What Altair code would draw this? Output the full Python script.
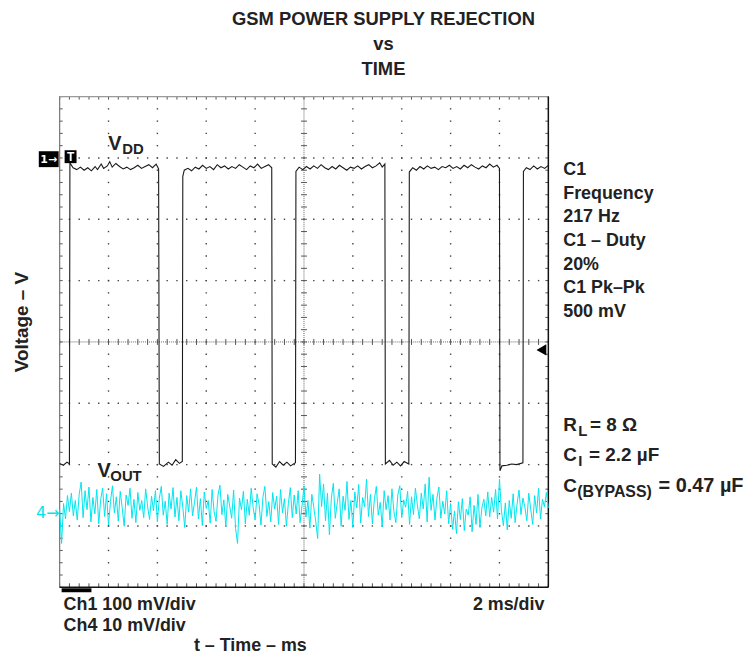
import altair as alt
import pandas as pd
import numpy as np

FONT = "Liberation Sans"

# ---------------- data ----------------
# Ch1 (VDD): time in ms, level in mV relative to the Ch1 ground marker, 100 mV/div
vdd_t = [0.00, 0.15, 0.30, 0.40,
         0.42, 0.55, 0.70, 0.85, 1.00, 1.15, 1.30, 1.45, 1.55, 1.70, 1.80, 1.95, 2.05, 2.15, 2.30, 2.45,
         2.60, 2.75, 2.90, 3.05, 3.20, 3.35, 3.50, 3.65, 3.80, 3.95, 4.05,
         4.08, 4.25, 4.45, 4.60, 4.75, 4.90, 5.02,
         5.04, 5.10, 5.25, 5.40, 5.55, 5.70, 5.85, 6.00, 6.15, 6.30, 6.45, 6.60, 6.75, 6.90, 7.05, 7.20,
         7.35, 7.50, 7.65, 7.80, 7.95, 8.10, 8.25, 8.40, 8.55, 8.68,
         8.70, 8.85, 9.00, 9.15, 9.30, 9.45, 9.65,
         9.67, 9.80, 9.95, 10.10, 10.25, 10.40, 10.55, 10.70, 10.85, 11.00, 11.15, 11.30, 11.45, 11.60,
         11.75, 11.90, 12.05, 12.20, 12.35, 12.50, 12.65, 12.80, 12.95, 13.10, 13.20, 13.31,
         13.33, 13.50, 13.65, 13.80, 13.95, 14.10, 14.29,
         14.31, 14.45, 14.60, 14.75, 14.90, 15.05, 15.20, 15.35, 15.50, 15.65, 15.80, 15.95, 16.10, 16.25,
         16.40, 16.55, 16.70, 16.85, 17.00, 17.15, 17.30, 17.45, 17.60, 17.75, 17.90, 18.00,
         18.02, 18.10, 18.30, 18.50, 18.70, 18.96,
         18.98, 19.10, 19.25, 19.40, 19.55, 19.70, 19.85, 20.00]
vdd_mv = [-496, -499, -494, -497,
          -6, -14, -17, -13, -18, -14, -19, -12, -17, -8, -15, -11, -4, -13, -7, -12,
          -16, -13, -17, -14, -10, -15, -12, -9, -14, -8, -16,
          -497, -501, -494, -499, -490, -496, -493,
          -28, -18, -15, -19, -13, -16, -10, -15, -12, -17, -9, -14, -11, -16, -12, -15,
          -9, -13, -17, -11, -14, -8, -15, -12, -9, -14,
          -497, -502, -493, -499, -494, -500, -495,
          -20, -13, -17, -12, -16, -11, -15, -9, -14, -17, -12, -16, -10, -14,
          -18, -13, -15, -11, -16, -12, -9, -14, -11, -6, -13, -8,
          -497, -491, -499, -494, -500, -493, -497,
          -21, -14, -18, -12, -16, -11, -15, -13, -17, -12, -14, -10, -15, -12,
          -16, -10, -14, -9, -13, -16, -11, -14, -8, -13, -10, -15,
          -508, -500, -499, -497, -498, -495,
          -20, -14, -17, -11, -16, -12, -15, -10]

# Ch4 (VOUT): mV relative to the Ch4 ground marker, 10 mV/div, one sample every 0.08 ms
vout_mv = [0.5, -5.0, 1.5, -1.0, 2.8, 0.2, 3.2, -0.5, 2.0, -1.2,
           3.0, 5.0, -0.8, 3.6, 0.5, 4.2, -1.5, 2.5, -0.2, 3.8,
           -1.8, 2.2, 4.0, -0.6, 3.1, -2.0, 1.8, 4.4, 0.0, 2.6,
           -1.4, 3.5, 0.8, -2.2, 2.9, 1.2, 4.0, -0.9, 2.2, -1.6,
           3.3, 0.4, 2.0, -0.8, 3.9, 1.0, -1.1, 2.7, 0.3, 3.6,
           -1.5, 2.4, 4.3, -0.4, 1.9, -1.9, 3.2, 0.6, 4.1, -0.7,
           2.5, -1.3, 3.6, 0.9, -2.4, 2.8, 0.1, 3.9, -0.5, 1.7,
           4.2, -1.0, 2.3, -2.1, 3.4, 0.7, 2.0, -1.7, 3.8, 0.2,
           -1.4, 2.9, 4.5, -0.3, 2.1, -2.3, 3.0, 1.1, -0.9, 3.7,
           -2.6, -5.0, 2.4, 0.5, 3.5, -1.8, 2.2, -0.4, 4.0, 0.8,
           -1.2, 3.1, 1.4, -2.0, 2.6, 4.3, -0.6, 1.8, -1.5, 3.3,
           0.6, 2.7, -1.9, 3.8, 0.0, 2.3, -2.2, 1.5, 4.1, -0.8,
           2.9, -0.2, 3.6, -1.6, 1.2, 4.4, -0.7, 2.0, -2.5, 3.0,
           0.9, -1.4, -4.2, 6.3, 1.0, 4.7, -1.3, 3.2, -3.6, 2.4,
           4.8, -0.9, 1.6, 3.9, -2.2, 2.7, 0.4, 5.1, -1.1, 2.0,
           -2.4, 3.4, 0.8, 4.6, -1.7, 2.5, 1.0, 5.5, -0.6, 3.0,
           -1.8, 2.2, 4.3, -0.4, 1.7, -2.3, 3.6, 0.5, 2.8, -1.2,
           3.9, 0.2, -1.6, 2.9, 4.4, -0.8, 2.1, 0.9, 3.5, -1.9,
           2.6, -0.3, 4.0, 1.3, -1.0, 3.2, 0.6, 4.7, -1.5, 5.8,
           0.4, 3.0, -1.2, 2.4, 4.2, -0.9, 1.9, -0.2, 3.6, -1.8,
           1.5, -2.7, 0.3, -3.4, 1.8, -1.1, 2.3, -2.9, 0.6, -0.4,
           2.6, -3.1, 1.2, -1.9, 3.0, -2.4, 0.8, 2.2, -0.5, 3.4,
           -0.7, 2.5, 0.1, 3.8, -1.0, 5.5, 0.4, -2.1, 1.6, -2.8,
           2.0, -0.9, 3.1, -1.6, 1.4, 3.7, -0.3, 2.4, 0.9, -1.3,
           3.2, 0.5, -1.9, 2.8, 0.0, 4.0, -1.0, 2.2, 1.0, 3.3,
           0.8]
VOUT_DT = 0.08

right_labels = ["C1", "Frequency", "217 Hz", "C1 \u2013 Duty", "20%", "C1 Pk\u2013Pk", "500 mV"]

# screen geometry: 10 x 2 ms horizontally, 8 divisions vertically
CH1_GND_DIV = 2.98
CH4_GND_DIV = -2.785
W, H = 492, 494

# ---------------- build tables ----------------
vdd_df = pd.DataFrame({"t": vdd_t, "v": [CH1_GND_DIV + m / 100.0 for m in vdd_mv],
                       "i": range(len(vdd_t))})
vout_df = pd.DataFrame({"t": [round(i * VOUT_DT, 3) for i in range(len(vout_mv))],
                        "v": [CH4_GND_DIV + m / 10.0 for m in vout_mv],
                        "i": range(len(vout_mv))})

xs = alt.Scale(domain=[0, 20], nice=False, zero=False)
ys = alt.Scale(domain=[-4, 4], nice=False, zero=False)

minor_x = [round(v, 2) for v in np.arange(0, 20.001, 0.4)]
minor_y = [round(v, 2) for v in np.arange(-4, 4.001, 0.2)]
major_x = [2, 4, 6, 8, 12, 14, 16, 18]
major_y = [-3, -2, -1, 1, 2, 3]

dots = [(x, y) for y in major_y for x in minor_x if 0 < x < 20] + \
       [(x, y) for x in major_x for y in minor_y if -4 < y < 4]
dots_df = pd.DataFrame(dots, columns=["x", "y"])
mx_df = pd.DataFrame({"x": minor_x})
my_df = pd.DataFrame({"y": minor_y})
one = pd.DataFrame({"k": [0]})

X = lambda f: alt.X(f, scale=xs, axis=None)
Y = lambda f: alt.Y(f, scale=ys, axis=None)

layers = []
# grid dots
layers.append(alt.Chart(dots_df).mark_square(size=2, color="#444", opacity=1)
              .encode(x=X("x:Q"), y=Y("y:Q")))
# centre cross lines
layers.append(alt.Chart(one).mark_rule(color="#666", strokeDash=[1, 1], strokeWidth=1)
              .encode(x=alt.value(W / 2), y=alt.value(0), y2=alt.value(H)))
layers.append(alt.Chart(one).mark_rule(color="#666", strokeDash=[1, 1], strokeWidth=1)
              .encode(y=alt.value(H / 2), x=alt.value(0), x2=alt.value(W)))
# ticks on centre lines
layers.append(alt.Chart(mx_df).mark_rule(color="#555", strokeWidth=1)
              .encode(x=X("x:Q"), y=alt.value(H / 2 - 3), y2=alt.value(H / 2 + 3)))
layers.append(alt.Chart(my_df).mark_rule(color="#555", strokeWidth=1)
              .encode(y=Y("y:Q"), x=alt.value(W / 2 - 3), x2=alt.value(W / 2 + 3)))
# ticks on borders
layers.append(alt.Chart(mx_df).mark_rule(color="#555", strokeWidth=1)
              .encode(x=X("x:Q"), y=alt.value(0), y2=alt.value(3)))
layers.append(alt.Chart(mx_df).mark_rule(color="#555", strokeWidth=1)
              .encode(x=X("x:Q"), y=alt.value(H - 4), y2=alt.value(H)))
layers.append(alt.Chart(my_df).mark_rule(color="#555", strokeWidth=1)
              .encode(y=Y("y:Q"), x=alt.value(0), x2=alt.value(3)))
layers.append(alt.Chart(my_df).mark_rule(color="#555", strokeWidth=1)
              .encode(y=Y("y:Q"), x=alt.value(W - 3), x2=alt.value(W)))
# borders
layers.append(alt.Chart(one).mark_rule(color="#777", strokeWidth=1.2)
              .encode(x=alt.value(0), y=alt.value(0), y2=alt.value(H)))
layers.append(alt.Chart(one).mark_rule(color="#999", strokeWidth=1.2)
              .encode(y=alt.value(0), x=alt.value(0), x2=alt.value(W)))
layers.append(alt.Chart(one).mark_rule(color="#111", strokeWidth=1.5)
              .encode(x=alt.value(W), y=alt.value(0), y2=alt.value(H)))
layers.append(alt.Chart(one).mark_rule(color="#111", strokeWidth=1.5)
              .encode(y=alt.value(H), x=alt.value(0), x2=alt.value(W)))

# traces
layers.append(alt.Chart(vout_df).mark_line(color="#00E5EE", strokeWidth=1)
              .encode(x=X("t:Q"), y=Y("v:Q"), order="i:Q"))
layers.append(alt.Chart(vdd_df).mark_line(color="#1a1a1a", strokeWidth=1.1)
              .encode(x=X("t:Q"), y=Y("v:Q"), order="i:Q"))


def txt(s, x, y, size=18, weight="bold", align="left", color="#222", angle=0, font=FONT):
    return alt.Chart(one).mark_text(text=s, fontSize=size, fontWeight=weight, align=align,
                                    baseline="middle", color=color, angle=angle, font=font) \
        .encode(x=alt.value(x), y=alt.value(y))


def box(x1, x2, y1, y2, color="black"):
    return alt.Chart(one).mark_rect(color=color).encode(
        x=alt.value(x1), x2=alt.value(x2), y=alt.value(y1), y2=alt.value(y2))


# channel / trigger markers
layers.append(box(-21, -1, 55, 71))
layers.append(txt("1\u2192", -11, 63.5, size=11, color="white", align="center", font="DejaVu Sans"))
layers.append(box(5, 17, 54, 67))
layers.append(txt("T", 11, 61, size=12, color="white", align="center"))
layers.append(txt("4\u2192", -12, 419, size=16, weight="normal", color="#00E5EE", align="center",
                  font="DejaVu Sans"))
layers.append(alt.Chart(one).mark_point(shape="triangle-left", filled=True, color="black",
                                        size=130, opacity=1)
              .encode(x=alt.value(485), y=alt.value(255)))
layers.append(box(2, 32, 495, 499))

# titles
layers.append(txt("GSM POWER SUPPLY REJECTION", 326, -78, size=18.5, align="center"))
layers.append(txt("vs", 326, -53, size=18.5, align="center"))
layers.append(txt("TIME", 326, -28, size=18.5, align="center"))
layers.append(txt("Voltage \u2013 V", -38, 227, size=19, align="center", angle=270))
layers.append(txt("t \u2013 Time \u2013 ms", 192, 553, align="center"))
layers.append(txt("Ch1 100 mV/div", 4, 512))
layers.append(txt("Ch4 10 mV/div", 4, 533))
layers.append(txt("2 ms/div", 488, 512, align="right"))

# trace labels
layers.append(txt("V", 49, 48, size=20))
layers.append(txt("DD", 63, 53, size=15))
layers.append(txt("V", 38, 377, size=20))
layers.append(txt("OUT", 51, 382, size=15))

# right-hand measurement column
for k, s in enumerate(right_labels):
    layers.append(txt(s, 507, 74 + k * 23.8))

layers.append(txt("R", 507, 331, size=19))
layers.append(txt("L", 522, 337, size=15))
layers.append(txt("= 8 \u03a9", 534, 331, size=19))
layers.append(txt("C", 507, 361, size=19))
layers.append(txt("I", 522, 367, size=15))
layers.append(txt("= 2.2 \u00b5F", 533, 361, size=19))
layers.append(txt("C", 507, 392, size=19))
layers.append(txt("(BYPASS)", 521, 398, size=16))
layers.append(txt("= 0.47 \u00b5F", 603, 392, size=20))

chart = alt.layer(*layers).properties(
    width=W, height=H,
    autosize=alt.AutoSizeParams(type="none"),
    padding={"left": 52, "top": 87, "right": 200, "bottom": 70},
).configure_view(stroke=None)

chart.save("out.html", embed_options={"renderer": "svg", "actions": False})
